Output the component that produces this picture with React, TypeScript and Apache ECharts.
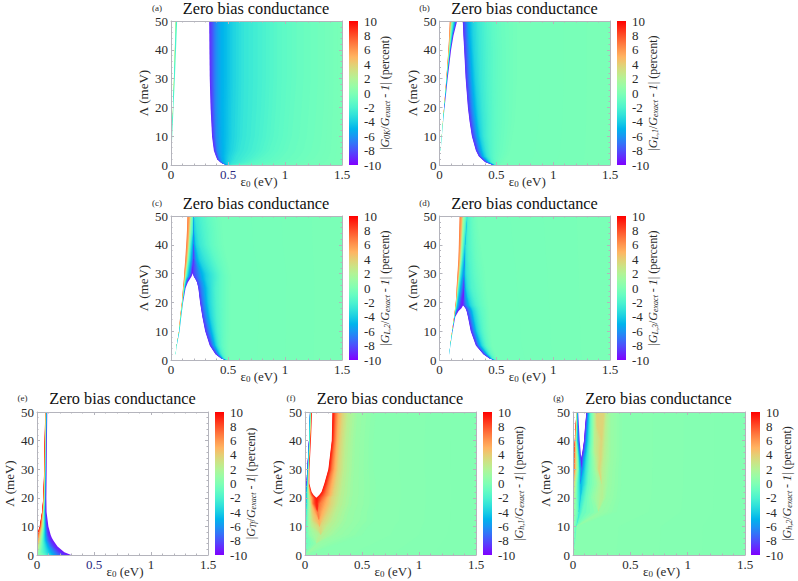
import React, { useEffect, useRef } from "react";
import * as echarts from "echarts";

const SERIF = "Liberation Serif";
const xTicks = { min: 0, max: 1.5, interval: 0.5 };
const yTicks = { min: 0, max: 50, interval: 10 };
const barTicks = { min: -10, max: 10, interval: 2 };
const titleText = "Zero bias conductance";

// ---- panel (a): value of each band, and the ε0 where each band begins, per Λ row
const lambdaA = [0, 0.5, 1, 2, 3, 5, 10, 20, 30, 40, 50];
const bandsA = [null, 3, 0, -4, -1, null, -9, -7, -6, -5.4, -4.9, -4.3, -3.3, -2.5, -1.75, -1.25, -0.75, -0.25];
const edgesA = [
  [0.0, 0.0, 0.0, 0.0, 0.0, 0.487, 0.49, 0.492, 0.494, 0.496, 0.498, 0.5, 0.51, 0.53, 0.58, 0.7, 1.05],
  [0.0, 0.0, 0.0, 0.0, 0.0, 0.45, 0.455, 0.46, 0.465, 0.47, 0.48, 0.5, 0.53, 0.6, 0.68, 0.85, 1.15],
  [0.001, 0.001, 0.001, 0.001, 0.001, 0.43, 0.437, 0.444, 0.452, 0.46, 0.475, 0.5, 0.54, 0.63, 0.72, 0.9, 1.2],
  [0.002, 0.002, 0.002, 0.002, 0.002, 0.405, 0.415, 0.427, 0.44, 0.455, 0.475, 0.505, 0.56, 0.67, 0.77, 0.95, 1.25],
  [0.003, 0.003, 0.003, 0.003, 0.003, 0.394, 0.405, 0.418, 0.433, 0.45, 0.475, 0.51, 0.57, 0.7, 0.81, 0.98, 1.27],
  [0.005, 0.005, 0.005, 0.005, 0.005, 0.376, 0.39, 0.405, 0.425, 0.45, 0.48, 0.525, 0.6, 0.74, 0.86, 1.02, 1.3],
  [0.009, 0.009, 0.0095, 0.01, 0.011, 0.36, 0.375, 0.395, 0.42, 0.445, 0.485, 0.535, 0.625, 0.77, 0.9, 1.06, 1.32],
  [0.017, 0.018, 0.019, 0.02, 0.022, 0.347, 0.365, 0.39, 0.415, 0.44, 0.485, 0.54, 0.635, 0.79, 0.92, 1.08, 1.34],
  [0.025, 0.027, 0.029, 0.031, 0.034, 0.34, 0.36, 0.39, 0.415, 0.44, 0.49, 0.545, 0.64, 0.8, 0.93, 1.1, 1.35],
  [0.033, 0.035, 0.038, 0.04, 0.044, 0.337, 0.36, 0.39, 0.415, 0.44, 0.49, 0.545, 0.64, 0.8, 0.93, 1.1, 1.35],
  [0.04, 0.043, 0.046, 0.05, 0.054, 0.335, 0.36, 0.39, 0.415, 0.44, 0.49, 0.545, 0.64, 0.8, 0.93, 1.1, 1.35],
];

// ---- panels (b), (c), (d) share one band order
const bandsLobe = [null, 7, 3, 0, -2, -4, -6, -8, -9.5, null, -9, -7.5, -6, -4.5, -3.2, -2.3, -1.6, -1.1, -0.6, -0.2];

const lambdaB = [0, 1, 3, 5, 10, 15, 20, 30, 40, 45, 50];
const edgesB = [
  [0, 0, 0, 0, 0, 0, 0, 0, 0, 0.47, 0.475, 0.48, 0.485, 0.49, 0.49, 0.495, 0.5, 0.51, 0.53],
  [0.002, 0.002, 0.002, 0.002, 0.002, 0.002, 0.002, 0.002, 0.002, 0.4, 0.41, 0.42, 0.43, 0.44, 0.45, 0.46, 0.48, 0.51, 0.56],
  [0.006, 0.006, 0.006, 0.006, 0.006, 0.006, 0.006, 0.006, 0.006, 0.345, 0.355, 0.365, 0.38, 0.4, 0.42, 0.445, 0.475, 0.52, 0.6],
  [0.01, 0.01, 0.01, 0.01, 0.01, 0.01, 0.01, 0.01, 0.01, 0.32, 0.33, 0.345, 0.365, 0.385, 0.41, 0.44, 0.475, 0.53, 0.62],
  [0.02, 0.02, 0.02, 0.02, 0.021, 0.021, 0.021, 0.021, 0.021, 0.285, 0.295, 0.315, 0.335, 0.36, 0.39, 0.43, 0.475, 0.54, 0.64],
  [0.03, 0.03, 0.031, 0.031, 0.032, 0.032, 0.032, 0.032, 0.032, 0.265, 0.275, 0.295, 0.32, 0.345, 0.385, 0.43, 0.475, 0.55, 0.66],
  [0.04, 0.041, 0.042, 0.043, 0.044, 0.045, 0.045, 0.045, 0.045, 0.25, 0.26, 0.28, 0.305, 0.335, 0.375, 0.425, 0.475, 0.55, 0.67],
  [0.06, 0.062, 0.063, 0.064, 0.066, 0.068, 0.07, 0.072, 0.072, 0.23, 0.24, 0.26, 0.285, 0.315, 0.36, 0.415, 0.47, 0.55, 0.68],
  [0.078, 0.083, 0.086, 0.09, 0.093, 0.096, 0.098, 0.1, 0.102, 0.217, 0.227, 0.247, 0.27, 0.3, 0.35, 0.41, 0.47, 0.55, 0.68],
  [0.085, 0.092, 0.096, 0.102, 0.108, 0.113, 0.117, 0.12, 0.123, 0.21, 0.22, 0.24, 0.26, 0.295, 0.345, 0.405, 0.465, 0.545, 0.68],
  [0.09, 0.1, 0.105, 0.115, 0.125, 0.135, 0.145, 0.15, 0.155, 0.205, 0.215, 0.235, 0.255, 0.29, 0.34, 0.4, 0.46, 0.54, 0.68],
];

const lambdaC = [0, 0.5, 2, 5, 10, 15, 20, 25, 27, 28, 29, 30, 35, 40, 45, 50];
const edgesC = [
  [0.02, 0.02, 0.02, 0.02, 0.02, 0.02, 0.02, 0.02, 0.02, 0.48, 0.485, 0.49, 0.49, 0.49, 0.5, 0.5, 0.5, 0.51, 0.52],
  [0.03, 0.03, 0.03, 0.03, 0.03, 0.03, 0.03, 0.03, 0.03, 0.44, 0.445, 0.45, 0.455, 0.46, 0.465, 0.47, 0.48, 0.49, 0.51],
  [0.04, 0.04, 0.04, 0.04, 0.04, 0.04, 0.04, 0.04, 0.04, 0.39, 0.4, 0.41, 0.42, 0.43, 0.44, 0.45, 0.465, 0.48, 0.51],
  [0.05, 0.05, 0.05, 0.05, 0.051, 0.051, 0.051, 0.051, 0.051, 0.34, 0.35, 0.365, 0.38, 0.395, 0.41, 0.425, 0.445, 0.47, 0.51],
  [0.07, 0.071, 0.072, 0.073, 0.074, 0.075, 0.075, 0.075, 0.075, 0.3, 0.31, 0.33, 0.35, 0.37, 0.39, 0.41, 0.44, 0.47, 0.52],
  [0.08, 0.083, 0.085, 0.086, 0.088, 0.09, 0.09, 0.09, 0.09, 0.275, 0.282, 0.3, 0.325, 0.345, 0.375, 0.4, 0.435, 0.47, 0.52],
  [0.095, 0.098, 0.1, 0.102, 0.104, 0.106, 0.106, 0.106, 0.106, 0.255, 0.262, 0.28, 0.305, 0.33, 0.365, 0.395, 0.43, 0.47, 0.52],
  [0.105, 0.11, 0.113, 0.116, 0.12, 0.124, 0.126, 0.128, 0.128, 0.24, 0.245, 0.265, 0.295, 0.325, 0.36, 0.39, 0.43, 0.47, 0.52],
  [0.11, 0.117, 0.12, 0.124, 0.128, 0.133, 0.138, 0.143, 0.148, 0.228, 0.233, 0.255, 0.285, 0.315, 0.36, 0.395, 0.43, 0.47, 0.525],
  [0.112, 0.12, 0.124, 0.128, 0.133, 0.14, 0.148, 0.155, 0.165, 0.215, 0.22, 0.245, 0.275, 0.31, 0.36, 0.4, 0.43, 0.47, 0.53],
  [0.114, 0.123, 0.128, 0.134, 0.142, 0.152, 0.163, 0.172, 0.18, 0.2, 0.205, 0.24, 0.27, 0.31, 0.36, 0.4, 0.43, 0.47, 0.53],
  [0.115, 0.125, 0.131, 0.138, 0.146, 0.158, 0.172, 0.182, 0.19, 0.19, 0.2, 0.235, 0.265, 0.305, 0.355, 0.395, 0.43, 0.465, 0.52],
  [0.125, 0.14, 0.147, 0.155, 0.165, 0.178, 0.19, 0.2, 0.2, 0.2, 0.2, 0.21, 0.225, 0.25, 0.3, 0.35, 0.385, 0.43, 0.49],
  [0.133, 0.15, 0.158, 0.168, 0.178, 0.19, 0.2, 0.2, 0.2, 0.2, 0.2, 0.2, 0.205, 0.22, 0.25, 0.3, 0.34, 0.39, 0.46],
  [0.14, 0.158, 0.167, 0.18, 0.195, 0.198, 0.2, 0.2, 0.2, 0.2, 0.2, 0.2, 0.2, 0.205, 0.23, 0.28, 0.33, 0.38, 0.45],
  [0.143, 0.165, 0.175, 0.19, 0.2, 0.2, 0.2, 0.2, 0.2, 0.2, 0.2, 0.2, 0.2, 0.2, 0.21, 0.26, 0.31, 0.36, 0.44],
];

const lambdaD = [0, 0.5, 2, 5, 10, 15, 17, 18, 19, 22, 25, 30, 35, 40, 50];
const edgesD = [
  [0.08, 0.08, 0.08, 0.08, 0.08, 0.08, 0.08, 0.08, 0.08, 0.48, 0.485, 0.49, 0.49, 0.49, 0.5, 0.5, 0.5, 0.51, 0.52],
  [0.08, 0.08, 0.08, 0.08, 0.08, 0.08, 0.08, 0.08, 0.08, 0.44, 0.445, 0.45, 0.455, 0.46, 0.465, 0.47, 0.48, 0.49, 0.5],
  [0.085, 0.085, 0.085, 0.085, 0.085, 0.085, 0.085, 0.085, 0.085, 0.385, 0.395, 0.405, 0.415, 0.425, 0.435, 0.445, 0.455, 0.47, 0.49],
  [0.095, 0.095, 0.095, 0.095, 0.095, 0.096, 0.096, 0.096, 0.096, 0.32, 0.33, 0.34, 0.355, 0.37, 0.385, 0.4, 0.415, 0.435, 0.46],
  [0.11, 0.112, 0.113, 0.114, 0.115, 0.116, 0.116, 0.116, 0.116, 0.275, 0.285, 0.3, 0.315, 0.33, 0.35, 0.37, 0.39, 0.415, 0.45],
  [0.128, 0.13, 0.132, 0.133, 0.135, 0.137, 0.138, 0.139, 0.139, 0.25, 0.258, 0.272, 0.29, 0.305, 0.33, 0.35, 0.375, 0.405, 0.44],
  [0.134, 0.137, 0.139, 0.141, 0.143, 0.147, 0.152, 0.158, 0.168, 0.238, 0.245, 0.26, 0.28, 0.295, 0.32, 0.34, 0.365, 0.4, 0.44],
  [0.137, 0.14, 0.142, 0.145, 0.148, 0.155, 0.165, 0.175, 0.193, 0.228, 0.235, 0.25, 0.27, 0.285, 0.31, 0.335, 0.36, 0.395, 0.435],
  [0.14, 0.144, 0.147, 0.15, 0.154, 0.16, 0.172, 0.185, 0.208, 0.208, 0.214, 0.23, 0.25, 0.27, 0.295, 0.32, 0.35, 0.385, 0.43],
  [0.147, 0.152, 0.155, 0.158, 0.162, 0.172, 0.185, 0.2, 0.215, 0.215, 0.215, 0.22, 0.235, 0.25, 0.275, 0.3, 0.335, 0.37, 0.42],
  [0.15, 0.158, 0.162, 0.166, 0.172, 0.185, 0.2, 0.215, 0.22, 0.22, 0.22, 0.22, 0.225, 0.235, 0.255, 0.28, 0.32, 0.36, 0.41],
  [0.158, 0.17, 0.176, 0.182, 0.19, 0.205, 0.22, 0.22, 0.22, 0.22, 0.22, 0.22, 0.22, 0.225, 0.24, 0.27, 0.3, 0.34, 0.4],
  [0.166, 0.178, 0.188, 0.197, 0.205, 0.22, 0.225, 0.225, 0.225, 0.225, 0.225, 0.225, 0.225, 0.225, 0.235, 0.255, 0.29, 0.32, 0.38],
  [0.17, 0.186, 0.196, 0.207, 0.22, 0.23, 0.23, 0.23, 0.23, 0.23, 0.23, 0.23, 0.23, 0.23, 0.23, 0.25, 0.28, 0.31, 0.36],
  [0.176, 0.198, 0.21, 0.23, 0.245, 0.245, 0.245, 0.245, 0.245, 0.245, 0.245, 0.245, 0.245, 0.245, 0.245, 0.25, 0.27, 0.29, 0.33],
];

// ---- panel (e)
const lambdaE = [0, 1, 3, 5, 6, 7, 10, 15, 20, 30, 40, 50];
const bandsE = [null, 9.5, 8, 6, 4, 2, 0, -2, -4, -6, -8, -9.5, null];
const edgesE = [
  [0, 0, 0, 0, 0, 0, 0.06, 0.1, 0.14, 0.18, 0.24, 0.3],
  [0, 0, 0, 0, 0, 0.01, 0.04, 0.08, 0.12, 0.16, 0.2, 0.24],
  [0, 0, 0, 0, 0.01, 0.025, 0.045, 0.07, 0.095, 0.12, 0.15, 0.18],
  [0, 0, 0.004, 0.012, 0.024, 0.035, 0.048, 0.062, 0.078, 0.095, 0.12, 0.145],
  [0, 0.003, 0.008, 0.017, 0.028, 0.038, 0.05, 0.062, 0.075, 0.09, 0.11, 0.13],
  [0, 0.005, 0.012, 0.022, 0.032, 0.042, 0.052, 0.062, 0.073, 0.085, 0.1, 0.12],
  [0.023, 0.028, 0.033, 0.04, 0.046, 0.053, 0.06, 0.066, 0.072, 0.08, 0.088, 0.1],
  [0.044, 0.047, 0.05, 0.053, 0.056, 0.06, 0.064, 0.067, 0.07, 0.074, 0.078, 0.084],
  [0.055, 0.057, 0.059, 0.061, 0.064, 0.067, 0.07, 0.072, 0.074, 0.076, 0.079, 0.082],
  [0.063, 0.065, 0.067, 0.069, 0.071, 0.073, 0.075, 0.077, 0.079, 0.081, 0.083, 0.085],
  [0.067, 0.069, 0.071, 0.073, 0.075, 0.077, 0.079, 0.081, 0.083, 0.085, 0.086, 0.087],
  [0.072, 0.074, 0.076, 0.078, 0.079, 0.08, 0.082, 0.084, 0.086, 0.088, 0.089, 0.09],
];

// ---- panel (f)
const lambdaF = [0, 4, 7, 10, 12, 15, 18, 20, 21, 22, 25, 30, 40, 50];
const bandsF = [null, -9.5, -7.5, -5.5, -3.5, -1.5, 0, 1.5, 3, 4.5, 6, 8, 9.5, null, 9.5, 8, 6, 4.5, 3, 1.5, 0.6, 0.1];
const edgesF = [
  [0, 0, 0, 0, 0, 0, 0, 0, 0, 0, 0, 0, 0, 0, 0, 0, 0, 0, 0, 0, 0],
  [0, 0, 0, 0, 0, 0.008, 0.1, 0.1, 0.1, 0.1, 0.1, 0.1, 0.1, 0.1, 0.1, 0.1, 0.1, 0.1, 0.1, 0.1, 0.3],
  [0, 0, 0, 0, 0, 0.012, 0.04, 0.14, 0.14, 0.14, 0.14, 0.14, 0.14, 0.14, 0.14, 0.14, 0.14, 0.14, 0.14, 0.26, 0.5],
  [0, 0, 0, 0, 0.004, 0.016, 0.03, 0.06, 0.13, 0.13, 0.13, 0.13, 0.13, 0.13, 0.13, 0.13, 0.13, 0.13, 0.2, 0.33, 0.55],
  [0, 0, 0, 0, 0.008, 0.018, 0.03, 0.05, 0.075, 0.125, 0.125, 0.125, 0.125, 0.125, 0.125, 0.125, 0.125, 0.16, 0.24, 0.36, 0.6],
  [0, 0, 0, 0.004, 0.012, 0.02, 0.03, 0.045, 0.06, 0.085, 0.11, 0.11, 0.11, 0.11, 0.11, 0.11, 0.15, 0.2, 0.27, 0.38, 0.6],
  [0, 0, 0.002, 0.01, 0.018, 0.024, 0.032, 0.042, 0.052, 0.06, 0.07, 0.09, 0.11, 0.11, 0.11, 0.13, 0.18, 0.23, 0.3, 0.41, 0.62],
  [0, 0, 0.006, 0.012, 0.018, 0.023, 0.03, 0.037, 0.045, 0.055, 0.07, 0.085, 0.1, 0.1, 0.125, 0.16, 0.195, 0.235, 0.31, 0.41, 0.62],
  [0, 0.002, 0.008, 0.013, 0.018, 0.023, 0.03, 0.036, 0.042, 0.048, 0.055, 0.065, 0.075, 0.125, 0.145, 0.175, 0.215, 0.25, 0.315, 0.42, 0.62],
  [0, 0.004, 0.009, 0.014, 0.019, 0.023, 0.027, 0.032, 0.037, 0.042, 0.047, 0.055, 0.058, 0.145, 0.16, 0.185, 0.22, 0.255, 0.32, 0.42, 0.62],
  [0.012, 0.014, 0.017, 0.02, 0.023, 0.026, 0.028, 0.03, 0.032, 0.034, 0.036, 0.037, 0.038, 0.17, 0.185, 0.205, 0.235, 0.27, 0.33, 0.42, 0.62],
  [0.02, 0.021, 0.023, 0.026, 0.029, 0.031, 0.033, 0.034, 0.035, 0.036, 0.037, 0.038, 0.039, 0.205, 0.218, 0.235, 0.26, 0.29, 0.345, 0.43, 0.6],
  [0.035, 0.035, 0.036, 0.038, 0.04, 0.043, 0.045, 0.046, 0.047, 0.048, 0.049, 0.05, 0.052, 0.235, 0.245, 0.26, 0.28, 0.31, 0.36, 0.44, 0.6],
  [0.044, 0.044, 0.044, 0.044, 0.046, 0.05, 0.053, 0.055, 0.057, 0.058, 0.059, 0.06, 0.062, 0.24, 0.255, 0.27, 0.295, 0.33, 0.38, 0.46, 0.62],
];

// ---- panel (g)
const lambdaG = [0, 5, 10, 15, 20, 25, 30, 34, 36, 40, 45, 50];
const bandsG = [null, 9, 6, 3, 0, -3, -6, -9, null, -9.5, -8, -6, -4, -2, 0, 1.5, 3, 4.5, 3, 1.5, 0.6, 0.1];
const edgesG = [
  [0, 0, 0, 0, 0, 0, 0, 0, 0, 0, 0, 0, 0, 0, 0, 0, 0, 0, 0, 0, 0],
  [0, 0, 0, 0, 0.02, 0.02, 0.02, 0.02, 0.02, 0.02, 0.02, 0.02, 0.02, 0.02, 0.02, 0.02, 0.02, 0.02, 0.02, 0.02, 0.02],
  [0, 0, 0, 0, 0.03, 0.03, 0.03, 0.03, 0.03, 0.03, 0.03, 0.03, 0.03, 0.03, 0.03, 0.03, 0.03, 0.03, 0.03, 0.03, 0.03],
  [0, 0, 0, 0, 0.05, 0.05, 0.05, 0.05, 0.05, 0.05, 0.05, 0.05, 0.05, 0.08, 0.22, 0.22, 0.22, 0.22, 0.22, 0.22, 0.38],
  [0, 0, 0, 0.015, 0.04, 0.07, 0.07, 0.07, 0.07, 0.07, 0.07, 0.07, 0.07, 0.11, 0.17, 0.25, 0.25, 0.25, 0.25, 0.29, 0.41],
  [0, 0, 0.008, 0.022, 0.04, 0.065, 0.065, 0.065, 0.065, 0.065, 0.065, 0.065, 0.1, 0.13, 0.2, 0.25, 0.25, 0.25, 0.25, 0.31, 0.42],
  [0, 0.01, 0.02, 0.035, 0.05, 0.06, 0.08, 0.08, 0.08, 0.08, 0.08, 0.09, 0.11, 0.14, 0.18, 0.21, 0.225, 0.225, 0.26, 0.32, 0.42],
  [0.004, 0.012, 0.022, 0.035, 0.046, 0.055, 0.064, 0.072, 0.072, 0.078, 0.088, 0.1, 0.12, 0.145, 0.175, 0.2, 0.24, 0.24, 0.27, 0.33, 0.43],
  [0.008, 0.014, 0.022, 0.032, 0.042, 0.05, 0.06, 0.067, 0.082, 0.088, 0.097, 0.11, 0.125, 0.145, 0.17, 0.19, 0.24, 0.24, 0.275, 0.33, 0.43],
  [0.015, 0.018, 0.022, 0.027, 0.033, 0.04, 0.05, 0.058, 0.096, 0.101, 0.109, 0.12, 0.135, 0.152, 0.175, 0.185, 0.25, 0.25, 0.28, 0.33, 0.43],
  [0.022, 0.024, 0.028, 0.032, 0.036, 0.04, 0.047, 0.052, 0.105, 0.11, 0.118, 0.128, 0.14, 0.155, 0.175, 0.19, 0.21, 0.26, 0.285, 0.33, 0.43],
  [0.03, 0.03, 0.031, 0.033, 0.037, 0.04, 0.043, 0.045, 0.117, 0.121, 0.127, 0.135, 0.145, 0.155, 0.175, 0.19, 0.205, 0.27, 0.29, 0.33, 0.43],
];

// ---- layout (pixels)
const panels = [
  { tag: "(a)", sub: "0K", x: 171, y: 21, w: 171, h: 144, barX: 349, titleX: 256, titleY: 8, tagX: 157, lambda: lambdaA, bands: bandsA, edges: edgesA, navy: true },
  { tag: "(b)", sub: "L,1", x: 439.5, y: 21, w: 170.5, h: 144, barX: 617, titleX: 524.5, titleY: 8, tagX: 424.5, lambda: lambdaB, bands: bandsLobe, edges: edgesB, navy: false },
  { tag: "(c)", sub: "L,2", x: 171, y: 216, w: 171, h: 144, barX: 349, titleX: 256, titleY: 203, tagX: 157, lambda: lambdaC, bands: bandsLobe, edges: edgesC, navy: false },
  { tag: "(d)", sub: "L,3", x: 439.5, y: 216, w: 170.5, h: 144, barX: 617, titleX: 524.5, titleY: 203, tagX: 424.5, lambda: lambdaD, bands: bandsLobe, edges: edgesD, navy: false },
  { tag: "(e)", sub: "Tf", x: 37, y: 412, w: 171, h: 143, barX: 215, titleX: 122.5, titleY: 398, tagX: 22.5, lambda: lambdaE, bands: bandsE, edges: edgesE, navy: true },
  { tag: "(f)", sub: "h,1", x: 305, y: 412, w: 171, h: 143, barX: 483, titleX: 390, titleY: 398, tagX: 291, lambda: lambdaF, bands: bandsF, edges: edgesF, navy: false },
  { tag: "(g)", sub: "h,2", x: 573, y: 412, w: 172, h: 143, barX: 751, titleX: 658.5, titleY: 398, tagX: 558.5, lambda: lambdaG, bands: bandsG, edges: edgesG, navy: false },
];

// gnuplot's "rainbow" palette
function rainbow(v: number) {
  const t = (v + 10) / 20;
  const c = (x: number) => Math.round(255 * Math.min(1, Math.max(0, x)));
  return `rgb(${c(Math.abs(2 * t - 0.5))},${c(Math.sin(Math.PI * t))},${c(Math.cos((Math.PI * t) / 2))})`;
}

const FRAME = "#b4b4bc";
const TEXT = "#2a2a2a";
const SHADES = 4; // colour steps painted inside each band, so its shading looks continuous

function frameAxis(pos: string, extent: any, gridIndex: number, labelled: boolean, extra: any = {}) {
  return {
    type: "value",
    gridIndex,
    position: pos,
    ...extent,
    z: 5,
    splitLine: { show: false },
    axisLine: { show: true, onZero: false, lineStyle: { color: FRAME, width: 1 } },
    axisTick: { show: true, inside: true, length: 3, lineStyle: { color: FRAME, width: 1 } },
    minorTick: { show: true, splitNumber: 5, length: 1.5, lineStyle: { color: FRAME, width: 1 } },
    axisLabel: { show: labelled, fontFamily: SERIF, fontSize: 13, color: TEXT, margin: 3 },
    ...extra,
  };
}

function buildOption() {
  const grid: any[] = [];
  const xAxis: any[] = [];
  const yAxis: any[] = [];
  const series: any[] = [];
  const title: any[] = [];

  panels.forEach((p) => {
    const g = grid.length;
    grid.push({ left: p.x, top: p.y, width: p.w, height: p.h, containLabel: false });
    const xi = xAxis.length;
    const yi = yAxis.length;
    xAxis.push(
      frameAxis("bottom", xTicks, g, true, {
        name: "{n|ε}{s|0}{n| (eV)}",
        nameLocation: "middle",
        nameMoveOverlap: false,
        nameGap: 10,
        nameTextStyle: {
          padding: [0, 0, 0, 5],
          rich: {
            n: { fontFamily: SERIF, fontSize: 13, color: TEXT },
            s: { fontFamily: SERIF, fontSize: 9, color: TEXT, verticalAlign: "bottom" },
          },
        },
        axisLabel: {
          show: true,
          fontFamily: SERIF,
          fontSize: 13,
          margin: 3,
          color: (v: any) => (p.navy && Number(v) === 0.5 ? "#2a2a80" : TEXT),
        },
      }),
      frameAxis("top", xTicks, g, false),
    );
    yAxis.push(
      frameAxis("left", yTicks, g, true, {
        name: "Λ (meV)",
        nameLocation: "middle",
        nameMoveOverlap: false,
        nameGap: 21,
        nameTextStyle: { fontFamily: SERIF, fontSize: 13, color: TEXT },
      }),
      frameAxis("right", yTicks, g, false),
    );
    const rows = p.edges;
    const lambda = p.lambda;
    const bands = p.bands;
    series.push({
      type: "custom",
      coordinateSystem: "cartesian2d",
      xAxisIndex: xi,
      yAxisIndex: yi,
      silent: true,
      data: bands.map((v, i) => [i, v === null ? 0 : v]),
      encode: { x: 0, y: 1 },
      renderItem: (params: any, api: any) => {
        const i = params.dataIndex;
        const v = bands[i];
        const edgeAt = (row: number[], k: number) => (k <= 0 ? 0 : k > row.length ? xTicks.max : row[k - 1]);
        // a band is painted only over the Λ rows where it has some width
        let r0 = rows.length;
        let r1 = -1;
        rows.forEach((row, r) => {
          if (edgeAt(row, i + 1) > edgeAt(row, i)) {
            r0 = Math.min(r0, r);
            r1 = Math.max(r1, r);
          }
        });
        if (r1 < 0) return { type: "group", children: [] };
        r0 = Math.max(0, r0 - 1);
        r1 = Math.min(rows.length - 1, r1 + 1);
        const poly = (f: number, fill: string) => {
          const points: number[][] = [];
          for (let r = r0; r <= r1; r++) {
            const a = edgeAt(rows[r], i);
            const b = edgeAt(rows[r], i + 1);
            points.push(api.coord([a + (b - a) * f, lambda[r]]));
          }
          points.push(api.coord([xTicks.max, lambda[r1]]));
          points.push(api.coord([xTicks.max, lambda[r0]]));
          return { type: "polygon", shape: { points }, style: { fill, stroke: "none" } };
        };
        if (v === null) return poly(0, "#ffffff");
        const prev = bands[i - 1];
        const next = bands[i + 1];
        const from = prev === null || prev === undefined ? v : (prev + v) / 2;
        const to = next === null || next === undefined ? v : (v + next) / 2;
        const children = [];
        for (let s = 0; s < SHADES; s++) {
          children.push(poly(s / SHADES, rainbow(from + ((to - from) * (s + 0.5)) / SHADES)));
        }
        return { type: "group", children };
      },
    });

    // colour bar
    const gb = grid.length;
    grid.push({ left: p.barX, top: p.y, width: 9, height: p.h, containLabel: false });
    const xb = xAxis.length;
    const yb = yAxis.length;
    xAxis.push({ type: "value", gridIndex: gb, min: 0, max: 1, show: false });
    yAxis.push({
      type: "value",
      gridIndex: gb,
      position: "right",
      ...barTicks,
      splitLine: { show: false },
      axisLine: { show: false },
      axisTick: { show: false },
      axisLabel: { fontFamily: SERIF, fontSize: 13, color: TEXT, margin: 6, align: "left" },
      name: `{n||}{i|G}{s|${p.sub}}{n|/}{i|G}{s|exact}{n| - }{i|1}{n|| (percent)}`,
      nameLocation: "middle",
      nameMoveOverlap: false,
      nameRotate: 90,
      nameGap: 21,
      nameTextStyle: {
        rich: {
          n: { fontFamily: SERIF, fontSize: 12, color: TEXT },
          i: { fontFamily: SERIF, fontSize: 12, color: TEXT, fontStyle: "italic" },
          s: { fontFamily: SERIF, fontSize: 8, color: TEXT, fontStyle: "italic", verticalAlign: "bottom" },
        },
      },
    });
    series.push({
      type: "custom",
      coordinateSystem: "cartesian2d",
      xAxisIndex: xb,
      yAxisIndex: yb,
      silent: true,
      data: [[0, barTicks.min]],
      encode: { x: 0, y: 1 },
      renderItem: (_: any, api: any) => {
        const a = api.coord([0, barTicks.max]);
        const b = api.coord([1, barTicks.min]);
        const colorStops = [];
        for (let v = barTicks.min; v <= barTicks.max; v += 1) {
          colorStops.push({ offset: (v - barTicks.min) / 20, color: rainbow(v) });
        }
        return {
          type: "rect",
          shape: { x: a[0], y: a[1], width: b[0] - a[0], height: b[1] - a[1] },
          style: { fill: new echarts.graphic.LinearGradient(0, 1, 0, 0, colorStops) },
        };
      },
    });

    title.push({
      text: titleText,
      left: p.titleX,
      top: p.titleY - 8,
      textAlign: "center",
      padding: 0,
      textStyle: { fontFamily: SERIF, fontSize: 16.3, fontWeight: "normal", color: "#111" },
    });
    title.push({
      text: p.tag,
      left: p.tagX,
      top: p.titleY - 5,
      textAlign: "center",
      padding: 0,
      textStyle: { fontFamily: SERIF, fontSize: 9, fontWeight: "normal", color: TEXT },
    });
  });

  return { animation: false, backgroundColor: "#ffffff", title, grid, xAxis, yAxis, series };
}

export default function App() {
  const ref = useRef<HTMLDivElement>(null);
  useEffect(() => {
    document.body.style.margin = "0";
    const chart = echarts.init(ref.current!, undefined, { renderer: "svg" });
    chart.setOption(buildOption() as any);
    return () => chart.dispose();
  }, []);
  return <div ref={ref} style={{ width: 798, height: 581 }} />;
}
